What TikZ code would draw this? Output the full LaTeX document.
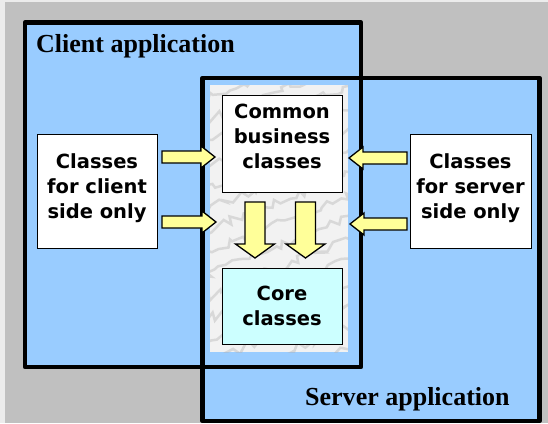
\documentclass[tikz,border=0pt]{standalone}
\usepackage{fontspec}
\newfontfamily\boxfont{DejaVu Sans}
\newfontfamily\titlefont{Liberation Serif}
\usetikzlibrary{calc,decorations.pathmorphing}

\definecolor{appblue}{HTML}{99CCFF}
\definecolor{arrowyellow}{HTML}{FFFF99}
\definecolor{corecyan}{HTML}{CCFFFF}
\definecolor{backgray}{HTML}{C0C0C0}

\tikzset{
  app/.style={line width=4.5pt, line join=round},
  classbox/.style={draw, line width=0.8pt, fill=white, minimum width=120pt,
    align=center, inner sep=0pt, font=\boxfont\bfseries\fontsize{19.5}{25}\selectfont},
  fat/.style={draw=black, line width=1.3pt, fill=arrowyellow, line join=miter},
  vein/.style={draw=gray!60, line width=2.5pt, opacity=0.4, line cap=round, decorate,
    decoration={random steps, segment length=6pt, amplitude=5pt}},
  title/.style={anchor=base west, inner sep=0pt, font=\titlefont\bfseries\fontsize{26}{30}\selectfont}
}

% block arrow: shaft half-width, head half-width, tail, tip
\newcommand{\fatarrow}[4]{%
  \coordinate (neck) at ($(#4)!14pt!(#3)$);
  \draw[fat] ($(#3)!#1!90:(#4)$) -- ($(neck)!#1!90:(#4)$) -- ($(neck)!#2!90:(#4)$) -- (#4)
    -- ($(neck)!#2!-90:(#4)$) -- ($(neck)!#1!-90:(#4)$) -- ($(#3)!#1!-90:(#4)$) -- cycle;
}

\begin{document}
\begin{tikzpicture}[x=1pt,y=-1pt]
\useasboundingbox (0,0) rectangle (548,423);

% Background
\fill[gray!15] (0,0) rectangle (548,423);
\fill[backgray] (5,2) rectangle (548,423);

% Client and server areas
\fill[appblue] (25,22.5) rectangle (361,367);
\fill[appblue] (202.5,78) rectangle (539.5,421);
\draw[app] (25,22.5) rectangle (361,367);
\draw[app] (202.5,78) rectangle (539.5,421);

% Marble panel for the shared part
\begin{scope}
\clip (210,85) rectangle (348,352);
\fill[gray!10] (210,85) rectangle (348,352);
\pgfmathsetseed{12}
\foreach \y in {60,82,...,420}
  \draw[vein] (195,\y) -- (365,\y-70);
\end{scope}

% Class boxes
\node[classbox, minimum height=97pt, text depth=14pt] (common) at (282,143.5) {Common\\business\\classes};
\node[classbox, minimum height=76pt, fill=corecyan] (core) at (282,306) {Core\\classes};
\node[classbox, minimum height=114pt, text depth=10pt] (clientonly) at (97,191) {Classes\\for client\\side only};
\node[classbox, minimum width=121pt, minimum height=114pt, text depth=10pt] (serveronly) at (470.5,191) {Classes\\for server\\side only};

% Arrow ends
\coordinate (cl-a) at (162,157);   \coordinate (cl-a-tip) at (215,157);
\coordinate (cl-b) at (162,222);   \coordinate (cl-b-tip) at (216,222);
\coordinate (sv-a) at (407,158);   \coordinate (sv-a-tip) at (349,158);
\coordinate (sv-b) at (407,224);   \coordinate (sv-b-tip) at (350,224);
\coordinate (cm-a) at (255,202);   \coordinate (cm-a-tip) at (255,258);
\coordinate (cm-b) at (305.5,202); \coordinate (cm-b-tip) at (305.5,258);

% Arrows
\fatarrow{6pt}{11pt}{cl-a}{cl-a-tip}
\fatarrow{6pt}{11pt}{cl-b}{cl-b-tip}
\fatarrow{6pt}{11pt}{sv-a}{sv-a-tip}
\fatarrow{6pt}{11pt}{sv-b}{sv-b-tip}
\fatarrow{10pt}{19.5pt}{cm-a}{cm-a-tip}
\fatarrow{10pt}{19.5pt}{cm-b}{cm-b-tip}

% Titles
\node[title] (clienttitle) at (36,52) {Client application};
\node[title] (servertitle) at (305,405) {Server application};

\end{tikzpicture}
\end{document}
